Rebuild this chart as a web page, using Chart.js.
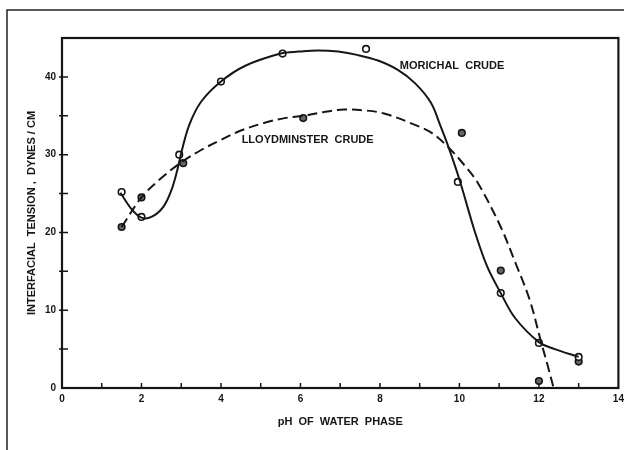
<!DOCTYPE html>
<html>
<head>
<meta charset="utf-8">
<script src="https://cdn.jsdelivr.net/npm/chart.js@4.4.0/dist/chart.umd.min.js"></script>
<style>
  html, body { margin: 0; padding: 0; background: #fff; }
</style>
</head>
<body>
<canvas id="myChart" width="624" height="450"></canvas>
<script>
// measured points
const morichalPH = [1.5, 2.0, 2.95, 4.0, 5.55, 7.65, 9.96, 11.04, 12.0, 13.0];
const morichalIFT = [25.2, 22.0, 30.0, 39.4, 43.0, 43.6, 26.5, 12.2, 5.8, 4.0];
const lloydPH = [1.5, 2.0, 3.05, 6.07, 10.06, 11.04, 12.0, 13.0];
const lloydIFT = [20.7, 24.5, 28.9, 34.7, 32.8, 15.1, 0.9, 3.4];

// hand drawn curves
const morichalCurvePH = [1.47, 1.75, 2.0, 2.25, 2.55, 2.75, 2.9, 3.0, 3.2, 3.5, 4.0, 4.6, 5.5, 5.95, 6.45, 6.95, 7.45, 7.95, 8.45, 8.88, 9.28, 9.53, 9.73, 10.0, 10.4, 10.7, 11.04, 11.4, 12.0, 12.4, 13.0];
const morichalCurveIFT = [25.1, 23.0, 21.9, 22.0, 23.3, 25.4, 28.0, 30.2, 33.8, 36.8, 39.4, 41.4, 43.0, 43.25, 43.4, 43.25, 42.8, 42.1, 40.9, 39.2, 36.7, 33.6, 30.9, 26.8, 19.9, 15.6, 12.2, 9.0, 5.9, 5.0, 4.0];
const lloydCurvePH = [1.5, 2.0, 2.5, 3.0, 3.5, 4.0, 4.5, 5.1, 5.6, 6.1, 6.6, 7.1, 7.6, 8.1, 8.8, 9.3, 9.73, 10.1, 10.46, 11.04, 11.4, 11.77, 12.05, 12.22, 12.37];
const lloydCurveIFT = [20.7, 24.5, 27.0, 29.0, 30.6, 31.9, 33.1, 34.1, 34.7, 35.0, 35.5, 35.8, 35.7, 35.3, 34.0, 32.8, 30.9, 28.8, 26.4, 20.7, 16.2, 11.3, 6.0, 2.9, 0];

const xTicks = [0, 2, 4, 6, 8, 10, 12, 14];
const yTicks = [0, 10, 20, 30, 40];

const toXY = (xs, ys) => xs.map((x, i) => ({ x: x, y: ys[i] }));

const ink = "#161616";
const tickFont = { family: "Liberation Sans", size: 10, weight: "bold" };
const titleFont = { family: "Liberation Sans", size: 11, weight: "bold" };

const paperPlugin = {
  id: "paper",
  beforeDraw(chart) {
    const ctx = chart.ctx;
    ctx.save();
    ctx.fillStyle = "#fff";
    ctx.fillRect(0, 0, chart.width, chart.height);
    ctx.restore();
  },
  afterDraw(chart) {
    const ctx = chart.ctx;
    const a = chart.chartArea;
    const xs = chart.scales.x;
    const ys = chart.scales.y;
    ctx.save();
    // outer frame (top + left only)
    ctx.strokeStyle = "#222";
    ctx.lineWidth = 1.5;
    ctx.beginPath();
    ctx.moveTo(7, 450);
    ctx.lineTo(7, 10);
    ctx.lineTo(624, 10);
    ctx.stroke();
    // plot box
    ctx.strokeStyle = ink;
    ctx.lineWidth = 2.2;
    ctx.strokeRect(a.left, a.top, a.right - a.left, a.bottom - a.top);
    // inside ticks
    ctx.lineWidth = 1.5;
    ctx.beginPath();
    for (let v = 1; v < 14; v++) {
      const px = xs.getPixelForValue(v);
      ctx.moveTo(px, a.bottom);
      ctx.lineTo(px, a.bottom - 5);
    }
    for (let v = 5; v < 45; v += 5) {
      const py = ys.getPixelForValue(v);
      ctx.moveTo(a.left - 3, py);
      ctx.lineTo(a.left + 6, py);
    }
    ctx.stroke();
    // curve labels
    ctx.fillStyle = ink;
    ctx.font = "bold 11px 'Liberation Sans'";
    ctx.textBaseline = "middle";
    ctx.textAlign = "left";
    ctx.fillText("MORICHAL  CRUDE", xs.getPixelForValue(8.5), ys.getPixelForValue(41.4));
    ctx.fillText("LLOYDMINSTER  CRUDE", xs.getPixelForValue(4.52), ys.getPixelForValue(31.9));
    ctx.restore();
  }
};

const myChart = document.querySelector("#myChart");

const data = {
  datasets: [
    {
      label: "Morichal crude curve",
      type: "line",
      data: toXY(morichalCurvePH, morichalCurveIFT),
      borderColor: ink,
      borderWidth: 2,
      pointRadius: 0,
      tension: 0.35,
      fill: false,
    },
    {
      label: "Lloydminster crude curve",
      type: "line",
      data: toXY(lloydCurvePH, lloydCurveIFT),
      borderColor: ink,
      borderWidth: 2,
      borderDash: [10, 5],
      pointRadius: 0,
      tension: 0.35,
      fill: false,
    },
    {
      label: "Morichal crude",
      type: "scatter",
      data: toXY(morichalPH, morichalIFT),
      pointRadius: 3.3,
      pointBorderWidth: 1.6,
      pointBorderColor: ink,
      pointBackgroundColor: "#fff",
    },
    {
      label: "Lloydminster crude",
      type: "scatter",
      data: toXY(lloydPH, lloydIFT),
      pointRadius: 3.3,
      pointBorderWidth: 1.6,
      pointBorderColor: ink,
      pointBackgroundColor: "#666",
    },
  ],
};

const config = {
  type: "scatter",
  data: data,
  options: {
    responsive: false,
    animation: false,
    layout: { padding: { top: 38, right: 3, left: 0, bottom: 0 } },
    plugins: { legend: { display: false }, tooltip: { enabled: false } },
    scales: {
      x: {
        type: "linear",
        min: 0,
        max: 14,
        afterFit: (s) => { s.height = 62; s.paddingLeft = 0; s.paddingRight = 0; },
        afterBuildTicks: (s) => { s.ticks = xTicks.map((v) => ({ value: v })); },
        grid: { display: false, drawTicks: false },
        border: { display: false },
        ticks: { color: ink, font: tickFont, padding: 5, maxRotation: 0, autoSkip: false },
        title: {
          display: true,
          text: "pH  OF  WATER  PHASE",
          color: ink,
          font: titleFont,
          padding: { top: 0, bottom: 21 },
        },
      },
      y: {
        min: 0,
        max: 45,
        afterFit: (s) => { s.width = 62; s.paddingTop = 0; s.paddingBottom = 0; },
        afterBuildTicks: (s) => { s.ticks = yTicks.map((v) => ({ value: v })); },
        grid: { display: false, drawTicks: false },
        border: { display: false },
        ticks: { color: ink, font: tickFont, padding: 6 },
        title: {
          display: true,
          text: "INTERFACIAL  TENSION ,  DYNES / CM",
          color: ink,
          font: titleFont,
          padding: { top: 25, bottom: 0 },
        },
      },
    },
  },
  plugins: [paperPlugin],
};

const lineChart = new Chart(myChart, config);
</script>
</body>
</html>
